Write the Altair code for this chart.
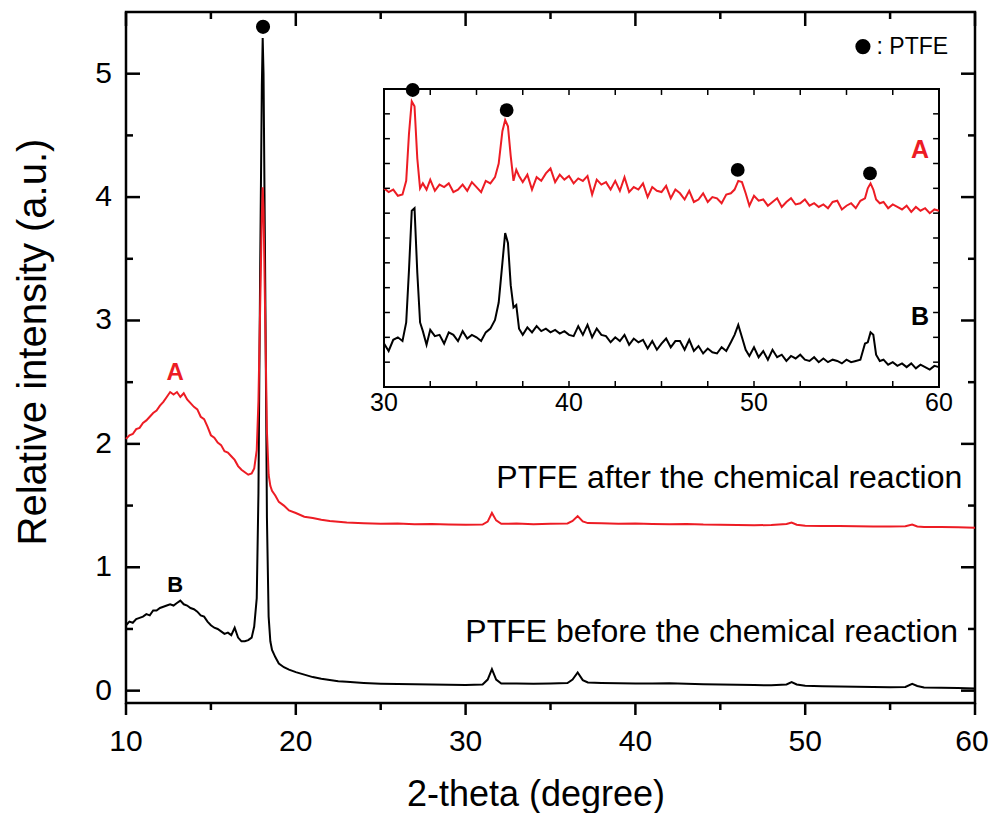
import altair as alt
import pandas as pd

FONT = "Liberation Sans"
RED = "#ED1C24"

# ---------------- main data ----------------
MAIN_X = [10.0, 10.2, 10.4, 10.6, 10.8, 11.0, 11.2, 11.4, 11.6, 11.8,
          12.0, 12.2, 12.4, 12.6, 12.8, 13.0, 13.2, 13.4, 13.6, 13.8,
          14.0, 14.2, 14.4, 14.6, 14.8, 15.0, 15.2, 15.4, 15.6, 15.8,
          16.0, 16.2, 16.4, 16.6, 16.8, 17.0, 17.2, 17.4,
          17.55, 17.7, 17.8, 17.9, 18.0, 18.05, 18.1, 18.2, 18.3, 18.4,
          18.5, 18.6, 18.8, 19.0, 19.3, 19.6, 20.0, 20.5, 21.0, 21.5,
          22.0, 22.5, 23.0, 24.0, 25.0, 26.0, 27.0, 28.0, 29.0, 30.0,
          31.0, 31.3, 31.55, 31.8, 32.1, 33.0, 34.0, 35.0, 36.0, 36.3,
          36.6, 36.9, 37.2, 38.0, 39.0, 40.0, 41.0, 42.0, 43.0, 44.0,
          45.0, 46.0, 47.0, 48.0, 48.9, 49.2, 49.5, 50.0, 51.0, 52.0,
          53.0, 54.0, 55.0, 55.9, 56.3, 56.6, 57.0, 58.0, 59.0, 60.0]

RED_Y = [2.04, 2.07, 2.08, 2.12, 2.13, 2.17, 2.19, 2.22, 2.25, 2.27,
         2.31, 2.34, 2.38, 2.42, 2.40, 2.42, 2.38, 2.41, 2.36, 2.33,
         2.30, 2.28, 2.22, 2.20, 2.14, 2.07, 2.05, 2.01, 1.99, 1.94,
         1.93, 1.90, 1.87, 1.82, 1.79, 1.77, 1.75, 1.76,
         1.80, 1.95, 2.35, 3.10, 3.85, 4.08, 3.90, 3.00, 2.10, 1.75,
         1.66, 1.62, 1.58, 1.53, 1.50, 1.46, 1.44, 1.41, 1.40, 1.385,
         1.375, 1.368, 1.362, 1.357, 1.352, 1.355, 1.349, 1.351, 1.346, 1.344,
         1.346, 1.37, 1.44, 1.38, 1.352, 1.354, 1.349, 1.352, 1.355, 1.375,
         1.415, 1.372, 1.358, 1.356, 1.353, 1.354, 1.350, 1.349, 1.351, 1.346,
         1.345, 1.343, 1.341, 1.342, 1.35, 1.362, 1.345, 1.336, 1.335, 1.334,
         1.332, 1.331, 1.33, 1.332, 1.347, 1.331, 1.327, 1.326, 1.324, 1.32]

BLACK_Y = [0.53, 0.56, 0.55, 0.58, 0.59, 0.60, 0.62, 0.61, 0.65, 0.65,
           0.67, 0.68, 0.69, 0.70, 0.69, 0.71, 0.73, 0.70, 0.69, 0.67,
           0.66, 0.64, 0.61, 0.60, 0.56, 0.53, 0.51, 0.50, 0.48, 0.46,
           0.47, 0.45, 0.51, 0.43, 0.40, 0.40, 0.41, 0.43,
           0.52, 0.75, 1.6, 3.4, 4.9, 5.29, 5.0, 3.3, 1.4, 0.6,
           0.40, 0.33, 0.27, 0.22, 0.19, 0.17, 0.15, 0.13, 0.11, 0.097,
           0.087, 0.077, 0.072, 0.063, 0.057, 0.054, 0.051, 0.049, 0.047, 0.046,
           0.05, 0.09, 0.175, 0.09, 0.058, 0.058, 0.057, 0.058, 0.062, 0.09,
           0.147, 0.085, 0.066, 0.062, 0.06, 0.058, 0.058, 0.06, 0.055, 0.052,
           0.05, 0.048, 0.045, 0.044, 0.05, 0.07, 0.05, 0.04, 0.036, 0.034,
           0.031, 0.029, 0.028, 0.03, 0.055, 0.038, 0.026, 0.023, 0.021, 0.018]

# ---------------- inset data (30-60 deg, arbitrary units 0-12) ----------------
INSET_A = [[30.0, 8.0], [30.25, 7.85], [30.5, 7.95], [30.75, 7.7], [31.0, 7.75],
           [31.2, 8.3], [31.35, 10.2], [31.5, 11.5], [31.65, 11.3], [31.8, 9.2],
           [31.95, 8.0], [32.1, 8.2], [32.3, 7.95], [32.5, 8.35], [32.75, 7.9],
           [33.0, 8.15], [33.25, 8.05], [33.5, 8.2], [33.75, 7.85], [34.0, 7.95],
           [34.25, 8.15], [34.5, 7.9], [34.75, 8.25], [35.0, 8.05], [35.25, 7.85],
           [35.5, 8.3], [35.75, 8.2], [36.0, 8.45], [36.2, 9.0], [36.4, 10.3],
           [36.55, 10.75], [36.7, 10.5], [36.85, 9.3], [37.0, 8.3], [37.15, 8.75],
           [37.3, 8.5], [37.5, 8.25], [37.75, 8.55], [38.0, 7.95], [38.25, 8.45],
           [38.5, 8.3], [38.75, 8.6], [39.0, 8.8], [39.25, 8.25], [39.5, 8.55],
           [39.75, 8.35], [40.0, 8.5], [40.25, 8.2], [40.5, 8.4], [40.75, 8.3],
           [41.0, 8.5], [41.25, 7.75], [41.5, 8.35], [41.75, 8.15], [42.0, 8.25],
           [42.25, 7.95], [42.5, 8.3], [42.75, 7.9], [43.0, 8.45], [43.25, 7.85],
           [43.5, 8.05], [43.75, 7.95], [44.0, 8.2], [44.25, 7.65], [44.5, 8.05],
           [44.75, 7.9], [45.0, 7.85], [45.25, 8.1], [45.5, 7.6], [45.75, 7.95],
           [46.0, 7.8], [46.25, 7.55], [46.5, 7.9], [46.75, 7.45], [47.0, 7.55],
           [47.25, 7.8], [47.5, 7.45], [47.75, 7.65], [48.0, 7.6], [48.25, 7.4],
           [48.5, 7.75], [48.75, 7.8], [48.95, 7.95], [49.15, 8.3], [49.35, 8.25],
           [49.55, 7.8], [49.75, 7.3], [50.0, 7.7], [50.25, 7.5], [50.5, 7.55],
           [50.75, 7.3], [51.0, 7.45], [51.25, 7.6], [51.5, 7.25], [51.75, 7.45],
           [52.0, 7.6], [52.25, 7.35], [52.5, 7.4], [52.75, 7.55], [53.0, 7.3],
           [53.25, 7.4], [53.5, 7.25], [53.75, 7.35], [54.0, 7.2], [54.25, 7.45],
           [54.5, 7.5], [54.75, 7.15], [55.0, 7.3], [55.25, 7.4], [55.5, 7.2],
           [55.75, 7.5], [56.0, 7.6], [56.15, 8.0], [56.3, 8.2], [56.45, 7.95],
           [56.6, 7.55], [56.8, 7.4], [57.0, 7.45], [57.25, 7.2], [57.5, 7.35],
           [57.75, 7.25], [58.0, 7.15], [58.25, 7.3], [58.5, 7.05], [58.75, 7.25],
           [59.0, 7.1], [59.25, 7.2], [59.5, 7.0], [59.75, 7.15], [60.0, 7.1]]

INSET_B = [[30.0, 1.75], [30.25, 1.45], [30.5, 1.9], [30.75, 2.0], [31.0, 1.85],
           [31.2, 2.6], [31.35, 4.7], [31.5, 7.1], [31.65, 7.2], [31.8, 4.6],
           [31.95, 2.6], [32.1, 2.25], [32.3, 1.7], [32.5, 2.3], [32.75, 2.05],
           [33.0, 2.1], [33.25, 1.75], [33.5, 2.2], [33.75, 2.1], [34.0, 1.85],
           [34.25, 2.25], [34.5, 1.95], [34.75, 2.1], [35.0, 2.0], [35.25, 1.85],
           [35.5, 2.2], [35.75, 2.35], [36.0, 2.7], [36.2, 3.4], [36.4, 5.0],
           [36.55, 6.2], [36.7, 5.8], [36.85, 4.1], [37.0, 3.2], [37.15, 3.3],
           [37.3, 2.35], [37.5, 2.1], [37.75, 2.4], [38.0, 2.2], [38.25, 2.45],
           [38.5, 2.25], [38.75, 2.35], [39.0, 2.2], [39.25, 2.3], [39.5, 2.15],
           [39.75, 2.25], [40.0, 2.1], [40.25, 2.05], [40.5, 2.45], [40.75, 2.1],
           [41.0, 2.5], [41.25, 2.0], [41.5, 2.35], [41.75, 2.1], [42.0, 2.05],
           [42.25, 1.8], [42.5, 2.0], [42.75, 1.85], [43.0, 2.1], [43.25, 1.7],
           [43.5, 1.95], [43.75, 1.8], [44.0, 1.9], [44.25, 1.55], [44.5, 1.85],
           [44.75, 1.5], [45.0, 1.75], [45.25, 1.95], [45.5, 1.6], [45.75, 1.85],
           [46.0, 1.85], [46.25, 1.5], [46.5, 1.9], [46.75, 1.45], [47.0, 1.65],
           [47.25, 1.35], [47.5, 1.55], [47.75, 1.4], [48.0, 1.35], [48.25, 1.6],
           [48.5, 1.45], [48.75, 1.8], [48.95, 2.1], [49.15, 2.5], [49.35, 2.0],
           [49.55, 1.5], [49.75, 1.25], [50.0, 1.6], [50.25, 1.2], [50.5, 1.45],
           [50.75, 1.1], [51.0, 1.5], [51.25, 1.2], [51.5, 1.3], [51.75, 1.05],
           [52.0, 1.25], [52.25, 1.15], [52.5, 1.3], [52.75, 1.1], [53.0, 1.05],
           [53.25, 1.2], [53.5, 1.0], [53.75, 1.15], [54.0, 1.0], [54.25, 1.1],
           [54.5, 1.05], [54.75, 0.95], [55.0, 1.1], [55.25, 1.0], [55.5, 1.05],
           [55.75, 1.1], [56.0, 1.75], [56.15, 1.8], [56.3, 2.2], [56.45, 2.1],
           [56.6, 1.3], [56.8, 1.05], [57.0, 1.1], [57.25, 0.9], [57.5, 1.0],
           [57.75, 0.85], [58.0, 0.95], [58.25, 0.8], [58.5, 0.95], [58.75, 0.75],
           [59.0, 0.9], [59.25, 0.8], [59.5, 0.7], [59.75, 0.85], [60.0, 0.8]]

# ---------------- ticks / labels ----------------
MAIN_X_TICKS = [10, 20, 30, 40, 50, 60]
MAIN_X_MINOR = [15, 25, 35, 45, 55]
MAIN_Y_TICKS = [0, 1, 2, 3, 4, 5]
MAIN_Y_MINOR = [0.5, 1.5, 2.5, 3.5, 4.5]
INSET_X_LABELS = [30, 40, 50, 60]
INSET_X_TICKS = [32.5, 35, 37.5, 40, 42.5, 45, 47.5, 50, 52.5, 55, 57.5]
INSET_Y_TICKS = [1, 2, 3, 4, 5, 6, 7, 8, 9, 10, 11]
INSET_X_DOMAIN = [30, 60]
INSET_Y_DOMAIN = [0, 12]

X_TITLE = "2-theta (degree)"
Y_TITLE = "Relative intensity (a.u.)"

MAIN_MARKERS = [[18.07, 5.38]]
INSET_MARKERS = [[31.55, 11.96], [36.63, 11.15], [49.12, 8.74], [56.27, 8.6]]

# annotation texts: [x, y, text]
MAIN_LABEL_A = [[12.9, 2.575, "A"]]
MAIN_LABEL_B = [[12.9, 0.856, "B"]]
CURVE_NOTES = [[59.25, 1.72, "PTFE after the chemical reaction"],
               [59.0, 0.474, "PTFE before the chemical reaction"]]
LEGEND_DOT = [[53.4, 5.22]]
LEGEND_TEXT = [[54.2, 5.22, ": PTFE"]]
INSET_LABEL_A = [[58.97, 9.55, "A"]]
INSET_LABEL_B = [[58.97, 2.82, "B"]]

# ---------------- geometry ----------------
W, H = 849, 691
MAJ, MIN_ = 14, 7
INSET_RANGE_X = [258, 813]
INSET_RANGE_Y = [375, 77]
ITX, ITY = 0.32, 0.24  # inset tick length in data units

mx = alt.Scale(domain=[10, 60], nice=False, zero=False)
my = alt.Scale(domain=[-0.1, 5.5], nice=False, zero=False)
ix = alt.Scale(domain=INSET_X_DOMAIN, range=INSET_RANGE_X, nice=False, zero=False)
iy = alt.Scale(domain=INSET_Y_DOMAIN, range=INSET_RANGE_Y, nice=False, zero=False)

df_main = pd.DataFrame({"x": MAIN_X, "A": RED_Y, "B": BLACK_Y})

black_line = alt.Chart(df_main).mark_line(color="black", strokeWidth=2).encode(
    x=alt.X("x:Q", scale=mx, axis=None), y=alt.Y("B:Q", scale=my, axis=None))
red_line = alt.Chart(df_main).mark_line(color=RED, strokeWidth=2).encode(
    x=alt.X("x:Q", scale=mx, axis=None), y=alt.Y("A:Q", scale=my, axis=None))


def yrule(vals, x0, x1, scale):
    return alt.Chart(pd.DataFrame({"v": vals})).mark_rule(color="black", strokeWidth=2.5).encode(
        y=alt.Y("v:Q", scale=scale, axis=None), x=alt.value(x0), x2=alt.value(x1))


def xrule(vals, y0, y1, scale):
    return alt.Chart(pd.DataFrame({"v": vals})).mark_rule(color="black", strokeWidth=2.5).encode(
        x=alt.X("v:Q", scale=scale, axis=None), y=alt.value(y0), y2=alt.value(y1))


main_ticks = [
    yrule(MAIN_Y_TICKS, 0, MAJ, my), yrule(MAIN_Y_MINOR, 0, MIN_, my),
    yrule(MAIN_Y_TICKS, W, W - MAJ, my), yrule(MAIN_Y_MINOR, W, W - MIN_, my),
    xrule(MAIN_X_TICKS, 0, MAJ, mx), xrule(MAIN_X_MINOR, 0, MIN_, mx),
    xrule(MAIN_X_TICKS, H, H + 12, mx), xrule(MAIN_X_MINOR, H, H + MIN_, mx),
]


# tick labels (through the main scales); the last x label is nudged so it stays on the page
def x_labels(vals, dx):
    return alt.Chart(pd.DataFrame({"v": vals})).mark_text(
        font=FONT, fontSize=30, baseline="middle", align="center", color="black", dx=dx).encode(
        x=alt.X("v:Q", scale=mx, axis=None), y=alt.value(H + 39), text="v:Q")


x_tick_labels = [x_labels(MAIN_X_TICKS[:-1], 0), x_labels(MAIN_X_TICKS[-1:], -3)]
y_tick_labels = alt.Chart(pd.DataFrame({"v": MAIN_Y_TICKS})).mark_text(
    font=FONT, fontSize=30, baseline="middle", align="right", color="black").encode(
    y=alt.Y("v:Q", scale=my, axis=None), x=alt.value(-14), text="v:Q")
x_title = alt.Chart(pd.DataFrame({"t": [X_TITLE]})).mark_text(
    font=FONT, fontSize=36, baseline="middle", align="center", color="black").encode(
    x=alt.value(410), y=alt.value(783), text="t:N")
y_title = alt.Chart(pd.DataFrame({"t": [Y_TITLE]})).mark_text(
    font=FONT, fontSize=40, baseline="middle", align="center", angle=270, color="black").encode(
    x=alt.value(-92), y=alt.value(330), text="t:N")


def texts(rows, xs, ys, **kw):
    df = pd.DataFrame(rows, columns=["x", "y", "t"])
    return alt.Chart(df).mark_text(font=FONT, **kw).encode(
        x=alt.X("x:Q", scale=xs, axis=None), y=alt.Y("y:Q", scale=ys, axis=None), text="t:N")


def dots(rows, xs, ys, size=200):
    df = pd.DataFrame(rows, columns=["x", "y"])
    return alt.Chart(df).mark_circle(color="black", opacity=1, size=size).encode(
        x=alt.X("x:Q", scale=xs, axis=None), y=alt.Y("y:Q", scale=ys, axis=None))


main_layer = alt.layer(
    black_line, red_line, *main_ticks, *x_tick_labels, y_tick_labels, x_title, y_title,
    texts(MAIN_LABEL_A, mx, my, color=RED, fontSize=24, fontWeight="bold"),
    texts(MAIN_LABEL_B, mx, my, color="black", fontSize=22, fontWeight="bold"),
    texts(CURVE_NOTES, mx, my, color="black", fontSize=32, align="right", baseline="middle"),
    dots(MAIN_MARKERS, mx, my),
    dots(LEGEND_DOT, mx, my, size=230),
    texts(LEGEND_TEXT, mx, my, color="black", fontSize=23, align="left", baseline="middle"),
)

# ---------------- inset ----------------
df_ia = pd.DataFrame(INSET_A, columns=["x", "y"])
df_ib = pd.DataFrame(INSET_B, columns=["x", "y"])
inset_frame = alt.Chart(pd.DataFrame({"x": [INSET_X_DOMAIN[0]], "x2": [INSET_X_DOMAIN[1]],
                                      "y": [INSET_Y_DOMAIN[0]], "y2": [INSET_Y_DOMAIN[1]]})).mark_rect(
    fillOpacity=0, stroke="black", strokeWidth=2).encode(
    x=alt.X("x:Q", scale=ix, axis=None), x2="x2:Q",
    y=alt.Y("y:Q", scale=iy, axis=None), y2="y2:Q")
ia_line = alt.Chart(df_ia).mark_line(color=RED, strokeWidth=2).encode(
    x=alt.X("x:Q", scale=ix, axis=None), y=alt.Y("y:Q", scale=iy, axis=None))
ib_line = alt.Chart(df_ib).mark_line(color="black", strokeWidth=2).encode(
    x=alt.X("x:Q", scale=ix, axis=None), y=alt.Y("y:Q", scale=iy, axis=None))

x0, x1 = INSET_X_DOMAIN
y0, y1 = INSET_Y_DOMAIN
df_ity = pd.DataFrame({"v": INSET_Y_TICKS})
df_itx = pd.DataFrame({"v": INSET_X_TICKS})
inset_ticks = [
    alt.Chart(df_ity.assign(a=x0, b=x0 + ITX)).mark_rule(color="black", strokeWidth=1.5).encode(
        y=alt.Y("v:Q", scale=iy, axis=None), x=alt.X("a:Q", scale=ix, axis=None), x2="b:Q"),
    alt.Chart(df_ity.assign(a=x1, b=x1 - ITX)).mark_rule(color="black", strokeWidth=1.5).encode(
        y=alt.Y("v:Q", scale=iy, axis=None), x=alt.X("a:Q", scale=ix, axis=None), x2="b:Q"),
    alt.Chart(df_itx.assign(a=y1, b=y1 - ITY)).mark_rule(color="black", strokeWidth=1.5).encode(
        x=alt.X("v:Q", scale=ix, axis=None), y=alt.Y("a:Q", scale=iy, axis=None), y2="b:Q"),
    alt.Chart(df_itx.assign(a=y0, b=y0 + ITY)).mark_rule(color="black", strokeWidth=1.5).encode(
        x=alt.X("v:Q", scale=ix, axis=None), y=alt.Y("a:Q", scale=iy, axis=None), y2="b:Q"),
]
inset_labels = alt.Chart(pd.DataFrame({"v": INSET_X_LABELS, "y": y0})).mark_text(
    font=FONT, fontSize=25, baseline="top", dy=4, color="black").encode(
    x=alt.X("v:Q", scale=ix, axis=None), y=alt.Y("y:Q", scale=iy, axis=None), text="v:Q")

inset_layer = alt.layer(
    inset_frame, ib_line, ia_line, *inset_ticks, inset_labels,
    dots(INSET_MARKERS, ix, iy, size=190),
    texts(INSET_LABEL_A, ix, iy, color=RED, fontSize=25, fontWeight="bold"),
    texts(INSET_LABEL_B, ix, iy, color="black", fontSize=25, fontWeight="bold"),
)

chart = alt.layer(main_layer, inset_layer).resolve_scale(
    x="independent", y="independent"
).properties(
    width=W, height=H,
    padding={"left": 118, "top": 4, "right": 14, "bottom": 110},
    autosize=alt.AutoSizeParams(type="none"),
    background="white",
).configure_view(stroke="black", strokeWidth=2.5)

chart.save("out.html", embed_options={"renderer": "svg", "actions": False})
